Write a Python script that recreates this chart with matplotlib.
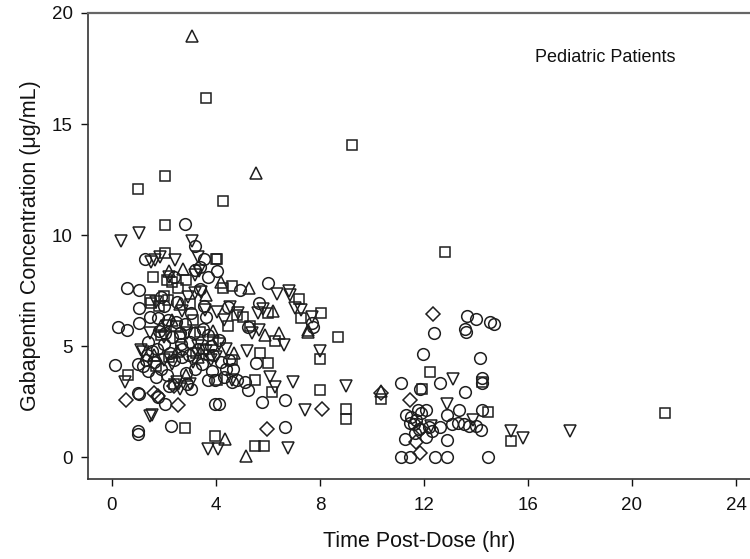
import matplotlib
matplotlib.use("Agg")
import matplotlib.pyplot as plt

plt.rcParams['font.family'] = ['Liberation Sans', 'DejaVu Sans']

# ---- data ----
circle_x = [2.8, 3.2, 1.26, 3.56, 3.18, 3.37, 3.69, 4.03, 0.59, 1.06, 1.06, 1.45, 1.77, 2.15, 3.05,
            0.23, 0.59, 1.06, 0.1, 1.0, 1.0, 1.0, 1.0, 2.27, 1.06, 1.77, 2.03, 3.03, 3.96, 4.12,
            3.96, 4.6, 5.24, 5.76, 6.65, 6.65, 5.56, 6.01, 4.92, 4.47, 5.24, 7.68, 7.74, 5.64, 3.69,
            1.6, 1.9, 2.1, 1.7, 2.4, 2.7, 2.0, 2.3, 2.6, 3.0, 3.3, 3.5, 3.7, 3.9, 4.2,
            4.4, 3.2, 2.9, 1.4, 1.8, 2.5, 2.0, 2.8, 3.6, 4.5, 4.8, 4.3, 2.2, 1.4, 1.3,
            1.9, 3.4, 2.4, 2.7, 1.2, 3.8, 4.1,
            1.55, 2.25, 2.95, 3.45, 3.85, 2.05, 2.65, 3.15, 1.75, 4.65, 5.1, 3.55, 2.45, 1.35, 2.85,
            12.4, 11.97, 13.67, 14.01, 13.57, 13.6, 14.53, 14.68, 14.15, 11.1, 12.6, 13.58, 11.85,
            14.25, 14.25, 14.25, 13.36, 11.78, 12.06, 11.3, 11.5, 11.6, 11.8, 12.09, 12.6, 12.87,
            13.08, 13.55, 13.73, 14.0, 14.2, 12.87, 11.27, 11.1, 11.46, 12.42, 12.87, 14.45,
            11.45, 11.7, 12.2, 11.9, 12.3, 11.65, 13.3]
circle_y = [10.5, 9.5, 8.93, 8.93, 8.44, 8.59, 8.14, 8.37, 7.61, 7.54, 6.71, 6.33, 6.26, 6.2, 6.49,
            5.88, 5.73, 6.03, 4.15, 4.2, 2.9, 1.2, 1.04, 1.41, 2.87, 2.72, 2.42, 3.06, 2.42, 2.42,
            3.48, 3.4, 3.02, 2.5, 2.57, 1.37, 4.23, 7.87, 7.54, 6.79, 5.88, 6.03, 5.85, 6.94, 3.48,
            4.3, 4.0, 3.7, 3.6, 4.4, 4.5, 5.1, 5.4, 5.6, 5.2, 4.9, 5.8, 5.5, 4.6, 4.3,
            4.0, 4.0, 3.3, 5.2, 5.7, 7.0, 6.8, 6.0, 6.3, 4.4, 3.5, 3.6, 3.2, 3.9, 4.4,
            7.2, 7.6, 8.1, 4.9, 4.1, 5.0, 5.3,
            4.8, 4.7, 4.6, 4.2, 3.9, 5.6, 5.1, 5.6, 4.9, 4.0, 3.4, 6.8, 6.1, 4.6, 3.8,
            5.58, 4.65, 6.35, 6.22, 5.8, 5.66, 6.09, 6.01, 4.46, 3.36, 3.33, 2.95, 3.06,
            3.57, 3.33, 2.13, 2.13, 2.13, 2.13, 1.9, 1.81, 1.5, 1.3, 0.93, 1.37, 1.9,
            1.49, 1.49, 1.41, 1.4, 1.25, 0.77, 0.84, 0.0, 0.0, 0.0, 0.0, 0.0,
            1.55, 1.7, 1.35, 2.0, 1.2, 1.1, 1.55]

square_x = [3.63, 9.23, 2.03, 1.02, 4.28, 2.03, 12.8, 2.03, 4.02, 1.58, 2.55, 4.61, 4.28, 7.18, 8.06,
            7.29, 4.45, 8.7, 1.99, 1.52, 1.45, 8.02, 5.69, 6.01, 5.5, 4.04, 0.62, 8.0, 6.14, 9.02,
            9.02, 10.36, 12.23, 11.94, 14.25, 14.47, 15.35, 21.27, 2.8, 3.96, 5.5, 5.86, 6.29, 2.86, 3.4,
            2.1, 2.3, 1.8, 2.6, 3.1, 3.9, 4.6, 2.2, 1.7, 3.5, 2.4, 3.0, 4.8, 5.3, 6.0, 4.06,
            1.9, 2.45, 3.25, 3.75, 2.15, 5.05]
square_y = [16.17, 14.04, 12.68, 12.08, 11.55, 10.46, 9.25, 9.2, 8.91, 8.14, 7.64, 7.72, 7.62, 7.13, 6.52,
            6.26, 5.91, 5.42, 7.26, 6.94, 7.09, 4.45, 4.68, 4.23, 3.48, 3.49, 3.7, 3.02, 2.95, 2.16,
            1.73, 2.61, 3.85, 3.06, 3.41, 2.05, 0.72, 2.02, 1.34, 0.98, 0.5, 0.5, 5.22, 8.0, 5.65,
            8.0, 7.9, 6.8, 5.4, 6.2, 5.3, 4.4, 4.5, 4.1, 4.9, 3.3, 6.9, 6.4, 5.9, 6.5, 8.93,
            5.5, 5.9, 4.7, 4.6, 7.1, 6.3]

tri_up_x = [3.07, 5.56, 5.15, 4.35, 7.53, 5.27, 6.44, 6.2, 4.2, 2.75, 2.3, 2.86, 5.88, 7.55, 1.9,
            2.5, 3.3, 1.6, 10.36, 3.6, 2.2, 4.7, 2.6, 3.9]
tri_up_y = [18.96, 12.8, 0.05, 0.84, 5.65, 7.62, 5.6, 6.6, 7.9, 8.5, 6.2, 3.7, 5.51, 5.73, 5.9,
            4.8, 4.5, 4.6, 3.0, 7.3, 8.4, 4.7, 6.9, 5.7]

tri_dn_x = [0.33, 1.06, 3.08, 3.3, 1.64, 1.83, 2.43, 3.35, 3.21, 6.34, 6.81, 6.85, 7.04, 7.27, 7.68,
            5.64, 6.6, 8.02, 5.2, 3.59, 2.92, 3.18, 3.43, 1.13, 1.19, 0.5, 6.08, 6.97, 6.27, 9.02,
            7.42, 6.76, 3.7, 4.09, 1.47, 1.55, 13.13, 12.87, 13.9, 15.35, 15.81, 17.6, 12.26, 4.03, 4.54,
            4.86, 5.37, 1.45, 2.0, 2.6, 3.0, 2.3, 3.1, 3.8, 4.6, 4.1, 1.5, 2.1, 5.6, 5.8,
            4.3, 3.3, 2.7, 2.0, 2.5, 1.7, 2.2, 2.9, 3.6, 4.0, 4.4]
tri_dn_y = [9.72, 10.1, 9.72, 9.0, 8.9, 9.04, 8.9, 8.38, 8.2, 7.34, 7.5, 7.31, 6.71, 6.64, 6.33,
            5.74, 5.05, 4.78, 4.81, 6.62, 7.24, 7.39, 7.46, 4.82, 4.75, 3.41, 3.63, 3.4, 3.17, 3.2,
            2.12, 0.44, 0.39, 0.39, 1.86, 1.9, 3.55, 2.42, 1.67, 1.17, 0.88, 1.2, 1.41, 6.56, 6.79,
            6.49, 5.58, 5.6, 5.4, 3.1, 3.3, 4.2, 4.3, 4.4, 3.5, 5.1, 8.8, 5.9, 6.5, 6.7,
            6.2, 5.0, 6.6, 4.4, 3.4, 7.0, 8.1, 5.6, 4.8, 4.5, 4.9]

diamond_x = [12.36, 0.54, 2.54, 8.08, 5.96, 10.36, 11.46, 11.7, 11.83, 1.79, 11.9, 2.4, 1.6]
diamond_y = [6.46, 2.6, 2.35, 2.2, 1.3, 2.9, 2.57, 0.69, 0.18, 2.77, 1.3, 3.2, 2.9]

x_ticks = [0, 4, 8, 12, 16, 20, 24]
y_ticks = [0, 5, 10, 15, 20]

# ---- figure ----
fig = plt.figure(figsize=(7.5, 5.59), dpi=100)
ax = fig.add_axes([88 / 750, 1 - 479 / 559, 1 - 88 / 750, (479 - 13) / 559])

ec = '#1e1e1e'
common = dict(ls='none', mfc='none', mec=ec, mew=1.1)
ax.plot(circle_x, circle_y, marker='o', ms=8.4, **common)
ax.plot(square_x, square_y, marker='s', ms=7.4, **common)
ax.plot(tri_up_x, tri_up_y, marker='^', ms=8.2, **common)
ax.plot(tri_dn_x, tri_dn_y, marker='v', ms=8.2, **common)
ax.plot(diamond_x, diamond_y, marker='D', ms=6.8, **common)

ax.set_xlim(-0.92, 24.54)
ax.set_ylim(-0.97, 20.0)
ax.set_xticks(x_ticks)
ax.set_yticks(y_ticks)
ax.tick_params(direction='out', length=5, width=1.0, labelsize=13.5, colors='#111')
ax.tick_params(axis='x', pad=8)
ax.tick_params(axis='y', pad=6)

for s in ['left', 'bottom']:
    ax.spines[s].set_color('#333')
    ax.spines[s].set_linewidth(1.2)
ax.spines['top'].set_color('#666')
ax.spines['top'].set_linewidth(1.6)
ax.spines['right'].set_visible(False)

ax.set_xlabel('Time Post-Dose (hr)', fontsize=15.5, color='#111', labelpad=12)
ax.set_ylabel('Gabapentin Concentration (\u03bcg/mL)', fontsize=15.5, color='#111', labelpad=8)

ax.text(16.27, 18.0, 'Pediatric Patients', fontsize=13, color='#111', va='center', ha='left')

fig.savefig('out.png', dpi=100)
